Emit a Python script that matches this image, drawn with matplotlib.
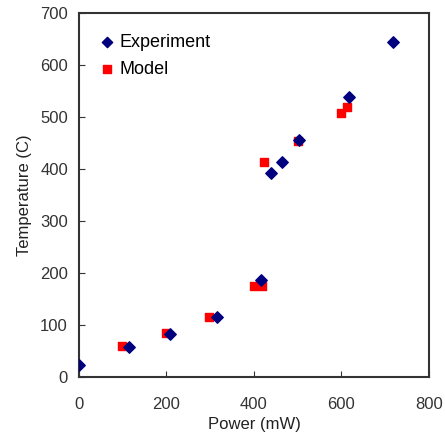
import matplotlib
matplotlib.use("Agg")
import matplotlib.pyplot as plt

plt.rcParams['font.family'] = ['Liberation Sans', 'DejaVu Sans']

# Experiment data
exp_power = [0, 114, 208, 315, 415, 439, 463, 504, 618, 718]
exp_temp = [23, 57, 82, 116, 186, 392, 413, 456, 539, 645]

# Model data
mod_power = [99, 198, 298, 400, 419, 424, 501, 600, 612]
mod_temp = [60, 85, 115, 176, 176, 413, 454, 508, 520]

fig = plt.figure(figsize=(4.45, 4.36), dpi=100)
ax = fig.add_axes([0.1775, 0.135, 0.7865, 0.835])

ax.scatter(exp_power, exp_temp, marker='D', s=34, color='#00007f', label='Experiment', zorder=3)
ax.scatter(mod_power, mod_temp, marker='s', s=36, color='#ff0000', label='Model', zorder=2)

ax.set_xlim(0, 800)
ax.set_ylim(0, 700)
ax.set_xticks([0, 200, 400, 600, 800])
ax.set_yticks(range(0, 701, 100))
ax.tick_params(direction='in', length=4, labelsize=12, colors='#333333', pad=8)
ax.tick_params(axis='x', pad=14)
for s in ax.spines.values():
    s.set_linewidth(1.5)
    s.set_color('#333333')

ax.set_xlabel('Power (mW)', fontsize=12, color='#222222', labelpad=4)
ax.set_ylabel('Temperature (C)', fontsize=12, color='#222222', labelpad=6)

ax.legend(loc='upper left', frameon=False, fontsize=13, handletextpad=0.3,
          handlelength=0.8, borderaxespad=0.75, labelspacing=0.55, markerscale=0.9)

fig.savefig('out.png', dpi=100)
